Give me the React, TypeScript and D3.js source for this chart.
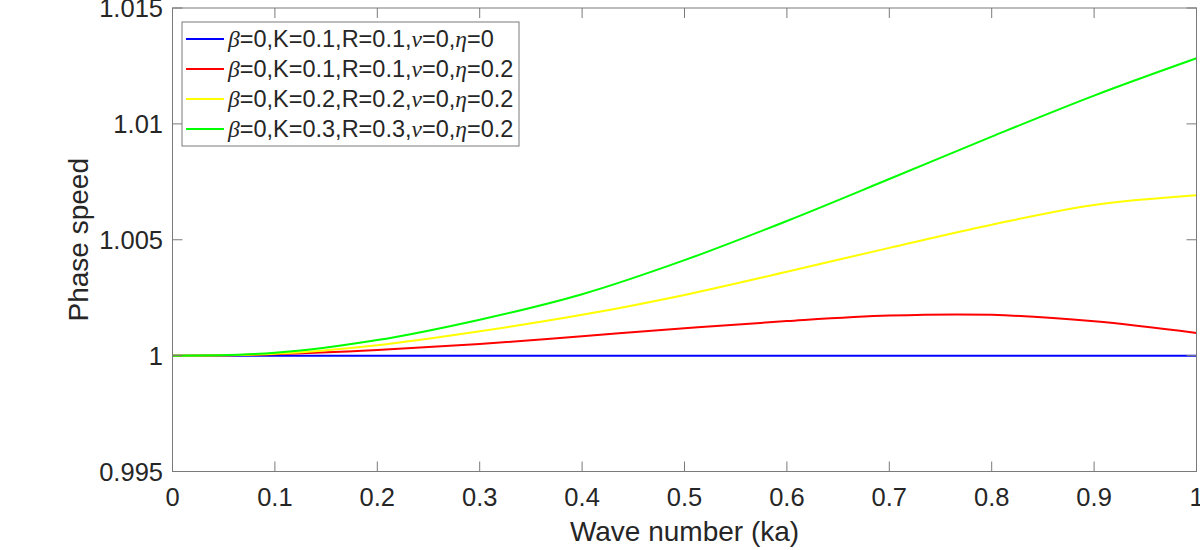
import { useEffect, useRef } from "react";
import * as d3 from "d3";

// wave number samples (ka)
const waveNumbers = [0, 0.1, 0.2, 0.3, 0.4, 0.5, 0.6, 0.7, 0.8, 0.9, 1.0];

// phase speed for each parameter set
const speedEta0 = [1, 1, 1, 1, 1, 1, 1, 1, 1, 1, 1];
const speedK01 = [1, 1.00006, 1.00024, 1.0005, 1.00084, 1.00118, 1.00149, 1.00173, 1.00176, 1.00148, 1.00098];
const speedK02 = [1, 1.00008, 1.00045, 1.00105, 1.00176, 1.00262, 1.00362, 1.00465, 1.00565, 1.0065, 1.00692];
const speedK03 = [1, 1.00012, 1.00067, 1.00155, 1.00265, 1.00412, 1.00581, 1.00762, 1.00945, 1.01122, 1.01283];

const seriesNames = [
  ["β", "=0,K=0.1,R=0.1,", "ν", "=0,", "η", "=0"],
  ["β", "=0,K=0.1,R=0.1,", "ν", "=0,", "η", "=0.2"],
  ["β", "=0,K=0.2,R=0.2,", "ν", "=0,", "η", "=0.2"],
  ["β", "=0,K=0.3,R=0.3,", "ν", "=0,", "η", "=0.2"],
];
const seriesColors = ["#0000ff", "#ff0000", "#ffff00", "#00ff00"];

const xTicks = [0, 0.1, 0.2, 0.3, 0.4, 0.5, 0.6, 0.7, 0.8, 0.9, 1];
const yTicks = [0.995, 1, 1.005, 1.01, 1.015];

const FONT = "'Liberation Sans', Arial, Helvetica, sans-serif";
const SERIF = "'Liberation Serif', 'Times New Roman', serif";
const TEXT = "#262626";
const AXIS = "#7a7a7a";

export default function App() {
  const svgRef = useRef<SVGSVGElement>(null);

  useEffect(() => {
    if (!svgRef.current) return;
    const svg = d3.select(svgRef.current);
    svg.selectAll("*").remove();

    const left = 172.5, right = 1196.5, top = 8, bottom = 471.5;

    const x = d3.scaleLinear().domain([0, 1]).range([left, right]);
    const y = d3.scaleLinear().domain([0.995, 1.015]).range([bottom, top]);

    svg.append("rect").attr("width", 1200).attr("height", 550).attr("fill", "#fff");

    // curves
    const series = [speedEta0, speedK01, speedK02, speedK03];
    const line = d3
      .line<number>()
      .x((_, i) => x(waveNumbers[i]))
      .y((d) => y(d))
      .curve(d3.curveCatmullRom.alpha(0.5));

    series.forEach((s, i) => {
      svg
        .append("path")
        .datum(s)
        .attr("fill", "none")
        .attr("stroke", seriesColors[i])
        .attr("stroke-width", 2)
        .attr("d", line);
    });

    // axes box
    svg
      .append("rect")
      .attr("x", left)
      .attr("y", top)
      .attr("width", right - left)
      .attr("height", bottom - top)
      .attr("fill", "none")
      .attr("stroke", AXIS)
      .attr("stroke-width", 1);

    const tickLen = 10;
    const ticks = svg.append("g").attr("stroke", AXIS).attr("stroke-width", 1);
    xTicks.forEach((t) => {
      ticks.append("line").attr("x1", x(t)).attr("x2", x(t)).attr("y1", bottom).attr("y2", bottom - tickLen);
      ticks.append("line").attr("x1", x(t)).attr("x2", x(t)).attr("y1", top).attr("y2", top + tickLen);
    });
    yTicks.forEach((t) => {
      ticks.append("line").attr("x1", left).attr("x2", left + tickLen).attr("y1", y(t)).attr("y2", y(t));
      ticks.append("line").attr("x1", right).attr("x2", right - tickLen).attr("y1", y(t)).attr("y2", y(t));
    });

    // tick labels
    svg
      .append("g")
      .selectAll("text")
      .data(xTicks)
      .enter()
      .append("text")
      .attr("x", (d) => x(d))
      .attr("y", 506)
      .attr("text-anchor", "middle")
      .attr("font-family", FONT)
      .attr("font-size", 25.5)
      .attr("fill", TEXT)
      .text((d) => d3.format("")(d));

    svg
      .append("g")
      .selectAll("text")
      .data(yTicks)
      .enter()
      .append("text")
      .attr("x", 163)
      .attr("y", (d) => y(d) + 9)
      .attr("text-anchor", "end")
      .attr("font-family", FONT)
      .attr("font-size", 25.5)
      .attr("fill", TEXT)
      .text((d) => d3.format("")(d));

    // axis titles
    svg
      .append("text")
      .attr("x", (left + right) / 2)
      .attr("y", 541)
      .attr("text-anchor", "middle")
      .attr("font-family", FONT)
      .attr("font-size", 28)
      .attr("fill", TEXT)
      .text("Wave number (ka)");

    svg
      .append("text")
      .attr("transform", `translate(88,${(top + bottom) / 2}) rotate(-90)`)
      .attr("text-anchor", "middle")
      .attr("font-family", FONT)
      .attr("font-size", 28)
      .attr("fill", TEXT)
      .text("Phase speed");

    // legend
    const lg = svg.append("g");
    lg.append("rect")
      .attr("x", 182)
      .attr("y", 22)
      .attr("width", 337)
      .attr("height", 124)
      .attr("fill", "#fff")
      .attr("stroke", AXIS)
      .attr("stroke-width", 1);

    seriesNames.forEach((parts, i) => {
      const cy = 39 + i * 30;
      lg.append("line")
        .attr("x1", 186)
        .attr("x2", 224)
        .attr("y1", cy)
        .attr("y2", cy)
        .attr("stroke", seriesColors[i])
        .attr("stroke-width", 2);
      const t = lg
        .append("text")
        .attr("x", 228)
        .attr("y", cy + 8)
        .attr("font-family", FONT)
        .attr("font-size", 23.5)
        .attr("fill", TEXT);
      parts.forEach((p, j) => {
        const span = t.append("tspan").text(p);
        if (j % 2 === 0) span.attr("font-family", SERIF).attr("font-style", "italic");
      });
    });
  }, []);

  return (
    <svg
      ref={svgRef}
      width={1200}
      height={550}
      style={{ position: "absolute", left: 0, top: 0, display: "block" }}
    />
  );
}
